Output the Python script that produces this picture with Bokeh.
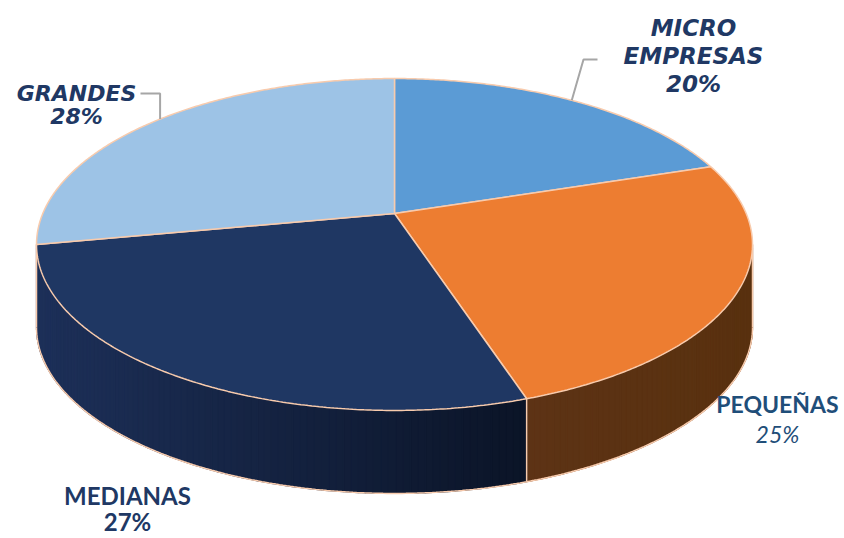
import numpy as np
from bokeh.plotting import figure
from bokeh.models import Range1d
from bokeh.embed import file_html
from bokeh.resources import INLINE
from bokeh.core.properties import value

# ---------------- data ----------------
categories = ["MICRO EMPRESAS", "PEQUEÑAS", "MEDIANAS", "GRANDES"]
shares = [20, 25, 27, 28]
top_colors = ["#5b9bd5", "#ed7d31", "#1f3763", "#9dc3e6"]
side_left_colors = ["#3f6e9c", "#5d3315", "#1d3059", "#6d8fb0"]
side_right_colors = ["#2f5478", "#59310f", "#0b1427", "#557593"]

# ---------------- projection of the tilted pie ----------------
CX, CY, AX, AY, K, DEPTH = 394.0, 213.0, 351.7, 120.4, -0.1867, 83.0
EDGE = "#f8cbad"


def proj(theta_deg, drop=0.0):
    t = np.radians(theta_deg)
    u, v = np.sin(t), -np.cos(t)
    den = 1.0 + K * v
    return CX + AX * u / den, (AY * v + CY) / den + drop


def arc(a0, a1, drop=0.0, step=0.5):
    n = max(2, int(abs(a1 - a0) / step) + 1)
    th = np.linspace(a0, a1, n)
    return proj(th, drop)


p = figure(width=844, height=538, output_backend="svg", toolbar_location=None,
           x_range=Range1d(0, 844), y_range=Range1d(538, 0),
           x_axis_type=None, y_axis_type=None, min_border=0,
           outline_line_color=None, background_fill_color="white",
           border_fill_color="white")
p.grid.visible = False

total = float(sum(shares))
bounds = np.concatenate([[0.0], np.cumsum(shares) / total * 360.0])
vis_r = np.degrees(np.arccos(K))          # rightmost visible side angle
vis_l = 360.0 - vis_r                       # leftmost visible side angle


def hex2rgb(h):
    h = h.lstrip("#")
    return np.array([int(h[i:i + 2], 16) for i in (0, 2, 4)], dtype=float)


def rgb2hex(c):
    return "#%02x%02x%02x" % tuple(int(round(x)) for x in c)


# ---- side walls (vertical strips with horizontal shading) ----
for i in range(len(shares)):
    a0, a1 = max(bounds[i], vis_r), min(bounds[i + 1], vis_l)
    if a1 - a0 < 0.5:
        continue
    cl, cr = hex2rgb(side_left_colors[i]), hex2rgb(side_right_colors[i])
    tx, ty = arc(a0, a1)
    bx, by = arc(a1, a0, DEPTH)
    p.patch(list(tx) + list(bx), list(ty) + list(by),
            fill_color=rgb2hex((cl + cr) / 2), line_color=None)
    th = np.linspace(a0, a1, int((a1 - a0) / 1.0) + 2)
    xa, _ = proj(np.array([a0, a1]))
    xmin, xmax = min(xa), max(xa)
    if i == 2:
        xmin = proj(vis_l)[0]
    if i == 1:
        xmax = proj(vis_r)[0]
    xs, ys, cols = [], [], []
    for j in range(len(th) - 1):
        ta = np.linspace(th[j], th[j + 1], 3)
        xt, yt = proj(ta)
        xb, yb = proj(ta[::-1], DEPTH)
        xs.append(list(xt) + list(xb))
        ys.append(list(yt) + list(yb))
        f = (xt.mean() - xmin) / (xmax - xmin)
        f = min(max(f, 0.0), 1.0)
        cols.append(rgb2hex(cl + (cr - cl) * f))
    p.patches(xs, ys, fill_color=cols, line_color=cols, line_width=1.2)

# side outline
bx, by = arc(vis_r, vis_l, DEPTH)
p.line(bx, by, line_color=EDGE, line_width=1.5)
for a in [vis_r, vis_l] + [b for b in bounds if vis_r < b < vis_l - 0.5]:
    xt, yt = proj(a)
    p.line([xt, xt], [yt, yt + DEPTH], line_color=EDGE, line_width=1.5)

# ---- top face wedges ----
for i in range(len(shares)):
    ax_, ay_ = arc(bounds[i], bounds[i + 1])
    xs = [CX] + list(ax_)
    ys = [CY] + list(ay_)
    p.patch(xs, ys, fill_color=top_colors[i], line_color=EDGE, line_width=1.5)

# ---- leader lines ----
LEADER = "#a6a6a6"
mx, my = proj(35.5)
p.line([597, 583, mx], [59, 59, my], line_color=LEADER, line_width=2)
gx, gy = proj(311.5)
p.line([140, gx, gx], [93, 93, gy], line_color=LEADER, line_width=2)

# ---- labels ----
pct = ["%d%%" % s for s in shares]
NAVY = "#203864"
label_specs = [
    # lines, x, baselines, size, font, styles, color
    (categories[0].split(" ") + [pct[0]], 693, [27, 55, 83], "23px", "DejaVu Sans",
     ["bold italic"] * 3, NAVY),
    ([categories[1], pct[1]], 777, [403, 433], "23px", "Lato",
     ["bold", "italic"], "#1f4e79"),
    ([categories[2], pct[2]], 127, [495, 521], "24px", "Lato",
     ["bold", "bold"], NAVY),
    ([categories[3], pct[3]], 76, [93, 116], "22px", "DejaVu Sans",
     ["bold italic"] * 2, NAVY),
]
for lines, x, bases, size, font, styles, color in label_specs:
    for txt, yb, st in zip(lines, bases, styles):
        p.text(x=[x], y=[yb], text=[txt], text_align="center",
               text_baseline="alphabetic", text_font=value(font),
               text_font_size=size, text_font_style=st, text_color=color)

open("out.html", "w").write(file_html(p, INLINE))
